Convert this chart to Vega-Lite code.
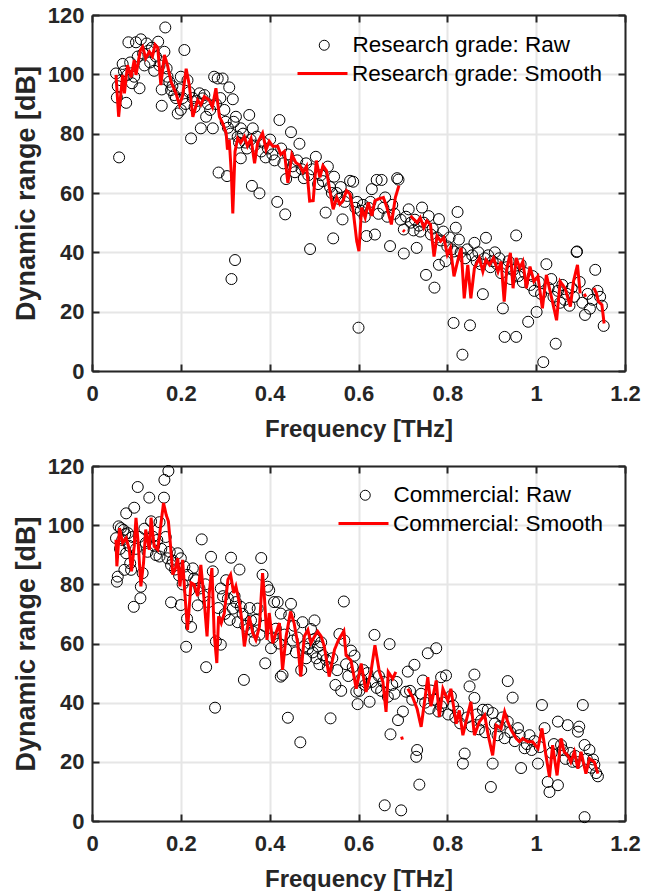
{
"$schema": "https://vega.github.io/schema/vega-lite/v6.json",
"background": "white",
"padding": {"left": 12, "top": 4, "right": 5, "bottom": 0},
"spacing": 14,
"config": {
 "font": "Liberation Sans",
 "view": {"stroke": null},
 "axis": {"labelFont": "Liberation Sans", "labelFontWeight": "bold", "labelFontSize": 22, "labelColor": "#262626", "labelFlush": false, "titleFont": "Liberation Sans", "titleFontWeight": "bold", "titleFontSize": 24, "titleColor": "#262626", "domainColor": "#262626", "domainWidth": 2, "tickColor": "#262626", "tickWidth": 2, "tickSize": -7, "gridColor": "#e6e6e6", "gridWidth": 2},
 "legend": {"labelFont": "Liberation Sans", "labelFontSize": 22.5, "labelColor": "#000000", "labelLimit": 400, "orient": "none", "padding": 0, "title": null}
},
"datasets": {
 "tr": [
{"f":0.054,"d":100.3},{"f":0.056,"d":92.2},{"f":0.061,"d":72},{"f":0.069,"d":103.5},{"f":0.077,"d":90.4},{"f":0.080,"d":99.8},{"f":0.082,"d":110.8},{"f":0.095,"d":99.2},{"f":0.099,"d":110.8},{"f":0.107,"d":95.3},{"f":0.110,"d":111.8},{"f":0.123,"d":110.4},{"f":0.140,"d":101.2},{"f":0.149,"d":111},{"f":0.157,"d":94.9},{"f":0.157,"d":89.4},{"f":0.163,"d":107.6},{"f":0.165,"d":115.8},{"f":0.170,"d":99.2},{"f":0.174,"d":97.5},{"f":0.178,"d":94.7},{"f":0.185,"d":93},{"f":0.193,"d":86.8},{"f":0.200,"d":88},{"f":0.200,"d":99.2},{"f":0.208,"d":108.2},{"f":0.215,"d":98},{"f":0.223,"d":78.4},{"f":0.242,"d":93.6},{"f":0.245,"d":81.8},{"f":0.249,"d":91.9},{"f":0.257,"d":85.7},{"f":0.272,"d":81.8},{"f":0.275,"d":99.2},{"f":0.283,"d":98.6},{"f":0.285,"d":66.9},{"f":0.294,"d":98.6},{"f":0.304,"d":65.7},{"f":0.309,"d":95.6},{"f":0.314,"d":31},{"f":0.317,"d":91.6},{"f":0.322,"d":37.4},{"f":0.324,"d":85.7},{"f":0.335,"d":81.8},{"f":0.335,"d":71.7},{"f":0.354,"d":86.3},{"f":0.360,"d":62.4},{"f":0.362,"d":81.8},{"f":0.377,"d":59.9},{"f":0.417,"d":57},{"f":0.422,"d":84.6},{"f":0.435,"d":52.8},{"f":0.437,"d":64.7},{"f":0.448,"d":80.5},{"f":0.467,"d":76.6},{"f":0.491,"d":41.1},{"f":0.504,"d":72.2},{"f":0.526,"d":53.4},{"f":0.531,"d":68.9},{"f":0.543,"d":44.7},{"f":0.545,"d":65.5},{"f":0.564,"d":51.1},{"f":0.581,"d":64.1},{"f":0.588,"d":63.8},{"f":0.600,"d":14.6},{"f":0.618,"d":45.5},{"f":0.630,"d":61.3},{"f":0.637,"d":46},{"f":0.641,"d":64.4},{"f":0.652,"d":64.4},{"f":0.660,"d":58.5},{"f":0.671,"d":42.1},{"f":0.687,"d":65},{"f":0.690,"d":64.5},{"f":0.702,"d":39.6},{"f":0.702,"d":47.7},{"f":0.713,"d":54.5},{"f":0.724,"d":47.4},{"f":0.731,"d":41.5},{"f":0.743,"d":55.1},{"f":0.752,"d":32.4},{"f":0.758,"d":52.2},{"f":0.771,"d":28.1},{"f":0.781,"d":51.2},{"f":0.781,"d":35.8},{"f":0.796,"d":37},{"f":0.814,"d":16.2},{"f":0.815,"d":40.3},{"f":0.819,"d":48.3},{"f":0.823,"d":53.6},{"f":0.826,"d":44.3},{"f":0.834,"d":5.5},{"f":0.851,"d":15.4},{"f":0.861,"d":43.2},{"f":0.880,"d":25.9},{"f":0.887,"d":44.9},{"f":0.925,"d":21.1},{"f":0.929,"d":11.5},{"f":0.955,"d":11.5},{"f":0.955,"d":45.7},{"f":0.982,"d":16.6},{"f":1.001,"d":19.9},{"f":1.016,"d":3},{"f":1.023,"d":36},{"f":1.044,"d":9.2},{"f":1.091,"d":40.1},{"f":1.092,"d":40.3},{"f":1.110,"d":18.9},{"f":1.133,"d":34.1},{"f":1.152,"d":15.2},
{"f":0.058,"d":96},{"f":0.065,"d":98},{"f":0.072,"d":101},{"f":0.086,"d":104},{"f":0.090,"d":97},{"f":0.103,"d":106},{"f":0.115,"d":107},{"f":0.118,"d":103},{"f":0.127,"d":108},{"f":0.131,"d":104},{"f":0.135,"d":109},{"f":0.144,"d":106},{"f":0.152,"d":103},{"f":0.168,"d":102},{"f":0.181,"d":96},{"f":0.189,"d":92},{"f":0.196,"d":95},{"f":0.204,"d":92},{"f":0.211,"d":90},{"f":0.219,"d":94},{"f":0.227,"d":92},{"f":0.231,"d":89},{"f":0.236,"d":91},{"f":0.253,"d":93},{"f":0.261,"d":90},{"f":0.266,"d":88},{"f":0.279,"d":90},{"f":0.289,"d":92},{"f":0.298,"d":88},{"f":0.301,"d":84},{"f":0.306,"d":82},{"f":0.312,"d":80},{"f":0.319,"d":84},{"f":0.328,"d":79},{"f":0.331,"d":77},{"f":0.340,"d":80},{"f":0.345,"d":77},{"f":0.349,"d":75},{"f":0.357,"d":78},{"f":0.366,"d":76},{"f":0.371,"d":79},{"f":0.381,"d":74},{"f":0.386,"d":77},{"f":0.391,"d":72},{"f":0.396,"d":75},{"f":0.401,"d":78},{"f":0.406,"d":73},{"f":0.411,"d":71},{"f":0.426,"d":75},{"f":0.431,"d":70},{"f":0.441,"d":73},{"f":0.452,"d":69},{"f":0.457,"d":67},{"f":0.462,"d":71},{"f":0.472,"d":68},{"f":0.477,"d":65},{"f":0.482,"d":70},{"f":0.487,"d":66},{"f":0.496,"d":68},{"f":0.509,"d":63},{"f":0.515,"d":66},{"f":0.520,"d":64},{"f":0.536,"d":62},{"f":0.540,"d":60},{"f":0.551,"d":60},{"f":0.556,"d":58},{"f":0.560,"d":62},{"f":0.569,"d":57},{"f":0.575,"d":59},{"f":0.593,"d":55},{"f":0.597,"d":57},{"f":0.605,"d":54},{"f":0.610,"d":56},{"f":0.614,"d":52},{"f":0.623,"d":55},{"f":0.627,"d":57},{"f":0.645,"d":53},{"f":0.656,"d":55},{"f":0.665,"d":52},{"f":0.676,"d":56},{"f":0.681,"d":53},{"f":0.695,"d":51},{"f":0.707,"d":52},{"f":0.718,"d":50},{"f":0.727,"d":51},{"f":0.736,"d":49},{"f":0.739,"d":47},{"f":0.747,"d":50},{"f":0.763,"d":46},{"f":0.767,"d":48},{"f":0.776,"d":45},{"f":0.786,"d":44},{"f":0.791,"d":47},{"f":0.800,"d":42},{"f":0.805,"d":45},{"f":0.810,"d":41},{"f":0.830,"d":40},{"f":0.840,"d":38},{"f":0.845,"d":41},{"f":0.856,"d":39},{"f":0.866,"d":37},{"f":0.870,"d":40},{"f":0.875,"d":36},{"f":0.884,"d":38},{"f":0.892,"d":39},{"f":0.897,"d":35},{"f":0.902,"d":37},{"f":0.907,"d":40},{"f":0.912,"d":36},{"f":0.917,"d":38},{"f":0.921,"d":33},{"f":0.934,"d":35},{"f":0.938,"d":37},{"f":0.943,"d":31},{"f":0.948,"d":34},{"f":0.960,"d":32},{"f":0.965,"d":36},{"f":0.970,"d":30},{"f":0.975,"d":33},{"f":0.987,"d":29},{"f":0.992,"d":32},{"f":0.996,"d":27},{"f":1.006,"d":30},{"f":1.011,"d":26},{"f":1.028,"d":28},{"f":1.034,"d":31},{"f":1.039,"d":25},{"f":1.049,"d":27},{"f":1.054,"d":23},{"f":1.059,"d":29},{"f":1.064,"d":24},{"f":1.069,"d":26},{"f":1.075,"d":22},{"f":1.080,"d":28},{"f":1.085,"d":25},{"f":1.098,"d":30},{"f":1.104,"d":23},{"f":1.116,"d":26},{"f":1.121,"d":21},{"f":1.127,"d":24},{"f":1.138,"d":27},{"f":1.144,"d":25},{"f":1.148,"d":22}
 ],
 "ts": [
{"f":0.054,"d":99.8,"g":1},{"f":0.060,"d":85.7,"g":1},{"f":0.069,"d":99.8,"g":1},{"f":0.073,"d":93.6,"g":1},{"f":0.080,"d":103.1,"g":1},{"f":0.088,"d":99,"g":1},{"f":0.095,"d":104.8,"g":1},{"f":0.099,"d":99.8,"g":1},{"f":0.109,"d":108.2,"g":1},{"f":0.114,"d":109.3,"g":1},{"f":0.121,"d":105.4,"g":1},{"f":0.129,"d":107.6,"g":1},{"f":0.136,"d":106,"g":1},{"f":0.142,"d":110,"g":1},{"f":0.148,"d":109,"g":1},{"f":0.155,"d":96.4,"g":1},{"f":0.163,"d":106.5,"g":1},{"f":0.170,"d":103,"g":1},{"f":0.178,"d":97.5,"g":1},{"f":0.189,"d":93.6,"g":1},{"f":0.197,"d":89.7,"g":1},{"f":0.204,"d":92.8,"g":1},{"f":0.212,"d":101.9,"g":1},{"f":0.219,"d":96.4,"g":1},{"f":0.227,"d":85.7,"g":1},{"f":0.238,"d":91.3,"g":1},{"f":0.245,"d":89.7,"g":1},{"f":0.253,"d":92.5,"g":1},{"f":0.264,"d":91.3,"g":1},{"f":0.271,"d":89,"g":1},{"f":0.279,"d":95.3,"g":1},{"f":0.287,"d":85.7,"g":1},{"f":0.294,"d":83.6,"g":1},{"f":0.302,"d":80.2,"g":1},{"f":0.305,"d":74.6,"g":1},{"f":0.309,"d":78,"g":1},{"f":0.314,"d":65.7,"g":1},{"f":0.317,"d":53.1,"g":1},{"f":0.322,"d":74,"g":1},{"f":0.328,"d":78.4,"g":1},{"f":0.335,"d":77,"g":1},{"f":0.343,"d":79,"g":1},{"f":0.350,"d":75.8,"g":1},{"f":0.358,"d":78.4,"g":1},{"f":0.366,"d":70,"g":1},{"f":0.373,"d":77,"g":1},{"f":0.384,"d":80.2,"g":1},{"f":0.392,"d":74.6,"g":1},{"f":0.399,"d":77.4,"g":1},{"f":0.407,"d":75.8,"g":1},{"f":0.418,"d":75.8,"g":1},{"f":0.425,"d":73,"g":1},{"f":0.433,"d":74,"g":1},{"f":0.441,"d":63.4,"g":1},{"f":0.450,"d":73,"g":1},{"f":0.459,"d":70.2,"g":1},{"f":0.467,"d":69.5,"g":1},{"f":0.475,"d":67,"g":1},{"f":0.483,"d":69,"g":1},{"f":0.490,"d":57.3,"g":1},{"f":0.498,"d":57.4,"g":1},{"f":0.505,"d":70.9,"g":1},{"f":0.513,"d":65.3,"g":1},{"f":0.520,"d":69.2,"g":1},{"f":0.528,"d":67.5,"g":1},{"f":0.535,"d":61.3,"g":1},{"f":0.543,"d":54.5,"g":1},{"f":0.551,"d":58.5,"g":1},{"f":0.558,"d":56.2,"g":1},{"f":0.565,"d":57.4,"g":1},{"f":0.573,"d":60.8,"g":1},{"f":0.581,"d":59.6,"g":1},{"f":0.588,"d":54,"g":1},{"f":0.596,"d":43.8,"g":1},{"f":0.601,"d":40.4,"g":1},{"f":0.607,"d":55.1,"g":1},{"f":0.615,"d":51.7,"g":1},{"f":0.622,"d":56.8,"g":1},{"f":0.630,"d":52.3,"g":1},{"f":0.637,"d":57.4,"g":1},{"f":0.645,"d":58,"g":1},{"f":0.656,"d":58.5,"g":1},{"f":0.664,"d":55.1,"g":1},{"f":0.674,"d":49.4,"g":1},{"f":0.683,"d":58.5,"g":1},{"f":0.691,"d":62.5,"g":1},
{"f":0.700,"d":47.5,"g":2},{"f":0.704,"d":47,"g":2},
{"f":0.717,"d":52.3,"g":3},{"f":0.724,"d":51.2,"g":3},{"f":0.732,"d":50,"g":3},{"f":0.739,"d":51.7,"g":3},{"f":0.747,"d":48.3,"g":3},{"f":0.754,"d":50.6,"g":3},{"f":0.762,"d":49.4,"g":3},{"f":0.770,"d":38.6,"g":3},{"f":0.777,"d":45.5,"g":3},{"f":0.785,"d":43.8,"g":3},{"f":0.792,"d":45,"g":3},{"f":0.800,"d":39.2,"g":3},{"f":0.807,"d":41.5,"g":3},{"f":0.815,"d":31.9,"g":3},{"f":0.823,"d":36.9,"g":3},{"f":0.831,"d":41.5,"g":3},{"f":0.838,"d":24.5,"g":3},{"f":0.846,"d":35.8,"g":3},{"f":0.853,"d":24.5,"g":3},{"f":0.861,"d":34.7,"g":3},{"f":0.872,"d":38.1,"g":3},{"f":0.880,"d":33.5,"g":3},{"f":0.887,"d":37.5,"g":3},{"f":0.895,"d":35.8,"g":3},{"f":0.904,"d":38.1,"g":3},{"f":0.914,"d":33.5,"g":3},{"f":0.921,"d":36.9,"g":3},{"f":0.928,"d":23.4,"g":3},{"f":0.934,"d":34.7,"g":3},{"f":0.942,"d":39.8,"g":3},{"f":0.948,"d":27.9,"g":3},{"f":0.955,"d":38.1,"g":3},{"f":0.963,"d":34.7,"g":3},{"f":0.970,"d":36.9,"g":3},{"f":0.978,"d":27.9,"g":3},{"f":0.986,"d":35.2,"g":3},{"f":0.995,"d":30.2,"g":3},{"f":1.004,"d":31.9,"g":3},{"f":1.014,"d":21.1,"g":3},{"f":1.023,"d":32.4,"g":3},{"f":1.035,"d":24.5,"g":3},{"f":1.046,"d":17.1,"g":3},{"f":1.054,"d":30.2,"g":3},{"f":1.065,"d":27.9,"g":3},{"f":1.077,"d":21.7,"g":3},{"f":1.084,"d":30.2,"g":3},{"f":1.093,"d":35.8,"g":3},{"f":1.099,"d":26.2,"g":3},
{"f":1.108,"d":26,"g":4},{"f":1.112,"d":25,"g":4},
{"f":1.130,"d":28,"g":5},{"f":1.136,"d":26,"g":5},{"f":1.140,"d":23.4,"g":5},{"f":1.148,"d":22.3,"g":5},{"f":1.153,"d":16,"g":5}
 ],
 "br": [
{"f":0.054,"d":95.6},{"f":0.056,"d":80.9},{"f":0.058,"d":82.6},{"f":0.060,"d":99.6},{"f":0.065,"d":99},{"f":0.071,"d":98.4},{"f":0.073,"d":84.9},{"f":0.077,"d":104},{"f":0.077,"d":90.5},{"f":0.081,"d":97.3},{"f":0.086,"d":87.1},{"f":0.088,"d":84.9},{"f":0.094,"d":72.4},{"f":0.095,"d":105.9},{"f":0.103,"d":112.9},{"f":0.109,"d":75.3},{"f":0.110,"d":79.2},{"f":0.114,"d":83.8},{"f":0.118,"d":98.8},{"f":0.129,"d":109.3},{"f":0.133,"d":101.3},{"f":0.137,"d":96.1},{"f":0.144,"d":89.9},{"f":0.152,"d":101},{"f":0.152,"d":89.4},{"f":0.162,"d":109.3},{"f":0.163,"d":115.3},{"f":0.170,"d":88.8},{"f":0.172,"d":118.3},{"f":0.178,"d":86.5},{"f":0.178,"d":73.9},{"f":0.193,"d":90.5},{"f":0.200,"d":88.8},{"f":0.200,"d":73},{"f":0.208,"d":86},{"f":0.212,"d":58.9},{"f":0.214,"d":68.4},{"f":0.215,"d":83.2},{"f":0.223,"d":65.6},{"f":0.227,"d":85.4},{"f":0.234,"d":81.4},{"f":0.238,"d":72.9},{"f":0.242,"d":78.6},{"f":0.247,"d":95.2},{"f":0.257,"d":52},{"f":0.268,"d":89.3},{"f":0.272,"d":84.4},{"f":0.277,"d":38.3},{"f":0.279,"d":60.7},{"f":0.290,"d":59.6},{"f":0.290,"d":78.6},{"f":0.302,"d":81.4},{"f":0.306,"d":75.2},{"f":0.313,"d":89},{"f":0.317,"d":71.8},{"f":0.324,"d":74},{"f":0.328,"d":67.2},{"f":0.332,"d":85},{"f":0.335,"d":72.4},{"f":0.342,"d":47.7},{"f":0.351,"d":64.9},{"f":0.358,"d":67.8},{"f":0.366,"d":61},{"f":0.373,"d":71.8},{"f":0.381,"d":88.9},{"f":0.384,"d":83.2},{"f":0.390,"d":53.3},{"f":0.395,"d":79.2},{"f":0.399,"d":78},{"f":0.403,"d":58.4},{"f":0.410,"d":74},{"f":0.418,"d":74},{"f":0.425,"d":70.1},{"f":0.425,"d":48.8},{"f":0.429,"d":49.4},{"f":0.441,"d":34.9},{"f":0.444,"d":69.5},{"f":0.448,"d":73.4},{"f":0.455,"d":66},{"f":0.469,"d":26.6},{"f":0.471,"d":51},{"f":0.474,"d":67.2},{"f":0.486,"d":58.2},{"f":0.493,"d":64.9},{"f":0.501,"d":67.8},{"f":0.501,"d":61.5},{"f":0.516,"d":60.4},{"f":0.527,"d":54.5},{"f":0.537,"d":34.7},{"f":0.548,"d":46},{"f":0.557,"d":63.2},{"f":0.561,"d":44},{"f":0.567,"d":74.2},{"f":0.568,"d":61},{"f":0.583,"d":57.6},{"f":0.591,"d":55.9},{"f":0.595,"d":43.7},{"f":0.598,"d":39.5},{"f":0.602,"d":44},{"f":0.625,"d":40.3},{"f":0.636,"d":62.9},{"f":0.659,"d":5.3},{"f":0.666,"d":42},{"f":0.670,"d":59.8},{"f":0.672,"d":29.3},{"f":0.689,"d":34.1},{"f":0.696,"d":3.6},{"f":0.700,"d":37},{"f":0.707,"d":43.7},{"f":0.711,"d":50.5},{"f":0.726,"d":52.8},{"f":0.730,"d":21.7},{"f":0.732,"d":24},{"f":0.737,"d":12.3},{"f":0.745,"d":47.5},{"f":0.756,"d":56.7},{"f":0.763,"d":44.1},{"f":0.775,"d":58.4},{"f":0.786,"d":48.6},{"f":0.786,"d":38.8},{"f":0.797,"d":49.2},{"f":0.808,"d":42.2},{"f":0.835,"d":19.4},{"f":0.839,"d":22.8},{"f":0.850,"d":45.5},{"f":0.861,"d":49.5},{"f":0.861,"d":41.6},{"f":0.880,"d":37.6},{"f":0.891,"d":37.6},{"f":0.898,"d":11.5},{"f":0.902,"d":19.4},{"f":0.902,"d":36.5},{"f":0.936,"d":47.3},{"f":0.936,"d":33.6},{"f":0.947,"d":41.7},{"f":0.959,"d":31.4},{"f":0.966,"d":17.9},{"f":0.974,"d":24.6},{"f":1.004,"d":19.4},{"f":1.013,"d":39.2},{"f":1.019,"d":31.4},{"f":1.026,"d":13.2},{"f":1.030,"d":9.8},{"f":1.049,"d":12.1},{"f":1.049,"d":33.6},{"f":1.056,"d":25.7},{"f":1.071,"d":32.4},{"f":1.094,"d":30.2},{"f":1.094,"d":19.9},{"f":1.097,"d":31.9},{"f":1.105,"d":39.2},{"f":1.109,"d":25.7},{"f":1.109,"d":1.3},{"f":1.120,"d":24},{"f":1.128,"d":20.8},{"f":1.135,"d":16.2},{"f":1.139,"d":15.1},
{"f":0.063,"d":92},{"f":0.068,"d":95},{"f":0.075,"d":97},{"f":0.084,"d":93},{"f":0.091,"d":96},{"f":0.099,"d":92},{"f":0.106,"d":96},{"f":0.121,"d":94},{"f":0.125,"d":91},{"f":0.140,"d":93},{"f":0.147,"d":95},{"f":0.156,"d":92},{"f":0.166,"d":96},{"f":0.175,"d":91},{"f":0.182,"d":88},{"f":0.187,"d":85},{"f":0.196,"d":83},{"f":0.204,"d":80},{"f":0.219,"d":78},{"f":0.230,"d":82},{"f":0.251,"d":76},{"f":0.255,"d":80},{"f":0.262,"d":74},{"f":0.284,"d":72},{"f":0.295,"d":76},{"f":0.299,"d":70},{"f":0.310,"d":68},{"f":0.321,"d":76},{"f":0.339,"d":70},{"f":0.345,"d":66},{"f":0.355,"d":72},{"f":0.362,"d":64},{"f":0.369,"d":68},{"f":0.377,"d":63},{"f":0.388,"d":66},{"f":0.407,"d":62},{"f":0.414,"d":65},{"f":0.421,"d":60},{"f":0.433,"d":63},{"f":0.437,"d":58},{"f":0.452,"d":61},{"f":0.459,"d":57},{"f":0.463,"d":62},{"f":0.478,"d":59},{"f":0.482,"d":55},{"f":0.490,"d":60},{"f":0.497,"d":57},{"f":0.505,"d":55},{"f":0.509,"d":59},{"f":0.512,"d":53},{"f":0.520,"d":56},{"f":0.531,"d":52},{"f":0.541,"d":55},{"f":0.552,"d":51},{"f":0.572,"d":53},{"f":0.577,"d":49},{"f":0.587,"d":52},{"f":0.606,"d":48},{"f":0.611,"d":51},{"f":0.615,"d":46},{"f":0.620,"d":50},{"f":0.630,"d":47},{"f":0.641,"d":45},{"f":0.646,"d":49},{"f":0.651,"d":44},{"f":0.656,"d":47},{"f":0.676,"d":46},{"f":0.681,"d":43},{"f":0.686,"d":47},{"f":0.716,"d":44},{"f":0.721,"d":41},{"f":0.741,"d":43},{"f":0.750,"d":40},{"f":0.760,"d":38},{"f":0.770,"d":41},{"f":0.780,"d":37},{"f":0.791,"d":40},{"f":0.802,"d":36},{"f":0.813,"d":39},{"f":0.818,"d":35},{"f":0.824,"d":37},{"f":0.829,"d":33},{"f":0.845,"d":35},{"f":0.855,"d":32},{"f":0.866,"d":36},{"f":0.871,"d":31},{"f":0.876,"d":34},{"f":0.885,"d":30},{"f":0.907,"d":33},{"f":0.913,"d":29},{"f":0.918,"d":32},{"f":0.924,"d":35},{"f":0.929,"d":28},{"f":0.942,"d":30},{"f":0.952,"d":27},{"f":0.963,"d":29},{"f":0.979,"d":26},{"f":0.985,"d":29},{"f":0.990,"d":24},{"f":0.996,"d":27},{"f":1.008,"d":25},{"f":1.035,"d":23},{"f":1.040,"d":26},{"f":1.060,"d":24},{"f":1.066,"d":21},{"f":1.077,"d":23},{"f":1.082,"d":20},{"f":1.088,"d":22},{"f":1.114,"d":21},{"f":1.124,"d":18},{"f":1.131,"d":19}
 ],
 "bs": [
{"f":0.054,"d":95.1,"g":1},{"f":0.056,"d":86.1,"g":1},{"f":0.062,"d":99,"g":1},{"f":0.069,"d":94,"g":1},{"f":0.077,"d":95.7,"g":1},{"f":0.084,"d":91.7,"g":1},{"f":0.089,"d":84.4,"g":1},{"f":0.095,"d":92.8,"g":1},{"f":0.099,"d":102.5,"g":1},{"f":0.104,"d":94,"g":1},{"f":0.110,"d":79.3,"g":1},{"f":0.116,"d":87.2,"g":1},{"f":0.121,"d":98.5,"g":1},{"f":0.129,"d":91.7,"g":1},{"f":0.133,"d":102.5,"g":1},{"f":0.140,"d":92.8,"g":1},{"f":0.148,"d":91.7,"g":1},{"f":0.155,"d":100.2,"g":1},{"f":0.161,"d":107.5,"g":1},{"f":0.167,"d":103.5,"g":1},{"f":0.172,"d":101.3,"g":1},{"f":0.176,"d":94.5,"g":1},{"f":0.182,"d":83.3,"g":1},{"f":0.188,"d":85.5,"g":1},{"f":0.193,"d":88.9,"g":1},{"f":0.198,"d":79.3,"g":1},{"f":0.204,"d":88.3,"g":1},{"f":0.209,"d":77.1,"g":1},{"f":0.215,"d":64.6,"g":1},{"f":0.223,"d":80.5,"g":1},{"f":0.230,"d":79.9,"g":1},{"f":0.238,"d":76,"g":1},{"f":0.245,"d":86.6,"g":1},{"f":0.253,"d":73.7,"g":1},{"f":0.259,"d":62.4,"g":1},{"f":0.264,"d":77.1,"g":1},{"f":0.270,"d":85.5,"g":1},{"f":0.275,"d":63.5,"g":1},{"f":0.281,"d":53.4,"g":1},{"f":0.285,"d":69.2,"g":1},{"f":0.291,"d":66.9,"g":1},{"f":0.298,"d":70.3,"g":1},{"f":0.306,"d":81.6,"g":1},{"f":0.312,"d":83.3,"g":1},{"f":0.319,"d":77.1,"g":1},{"f":0.324,"d":79.3,"g":1},{"f":0.332,"d":73.7,"g":1},{"f":0.338,"d":66.9,"g":1},{"f":0.343,"d":59,"g":1},{"f":0.349,"d":64.6,"g":1},{"f":0.354,"d":69.2,"g":1},{"f":0.362,"d":63.5,"g":1},{"f":0.369,"d":61.2,"g":1},{"f":0.377,"d":65.7,"g":1},{"f":0.384,"d":83.8,"g":1},{"f":0.388,"d":76,"g":1},{"f":0.394,"d":61.2,"g":1},{"f":0.399,"d":70.3,"g":1},{"f":0.407,"d":60.1,"g":1},{"f":0.414,"d":63.5,"g":1},{"f":0.422,"d":66.9,"g":1},{"f":0.429,"d":51.1,"g":1},{"f":0.437,"d":62.4,"g":1},{"f":0.447,"d":70.8,"g":1},{"f":0.455,"d":66.9,"g":1},{"f":0.463,"d":60.1,"g":1},{"f":0.470,"d":48.8,"g":1},{"f":0.478,"d":62.4,"g":1},{"f":0.486,"d":64.6,"g":1},{"f":0.493,"d":60.1,"g":1},{"f":0.501,"d":62.4,"g":1},{"f":0.508,"d":64.1,"g":1},{"f":0.516,"d":62.4,"g":1},{"f":0.523,"d":59,"g":1},{"f":0.534,"d":48.8,"g":1},{"f":0.546,"d":57.9,"g":1},{"f":0.555,"d":61.2,"g":1},{"f":0.567,"d":64.2,"g":1},{"f":0.572,"d":56,"g":1},{"f":0.583,"d":54.3,"g":1},{"f":0.595,"d":44.7,"g":1},{"f":0.606,"d":53.2,"g":1},{"f":0.617,"d":43.6,"g":1},{"f":0.628,"d":50.4,"g":1},{"f":0.637,"d":59.4,"g":1},{"f":0.647,"d":50.4,"g":1},{"f":0.655,"d":47,"g":1},{"f":0.662,"d":36.9,"g":1},{"f":0.667,"d":50.4,"g":1},{"f":0.677,"d":48.1,"g":1},{"f":0.684,"d":50.4,"g":1},
{"f":0.697,"d":28.5,"g":2},{"f":0.699,"d":27.5,"g":2},
{"f":0.711,"d":44.7,"g":3},{"f":0.722,"d":41.8,"g":3},{"f":0.732,"d":37.9,"g":3},{"f":0.741,"d":31.8,"g":3},{"f":0.756,"d":48.6,"g":3},{"f":0.763,"d":38.8,"g":3},{"f":0.775,"d":47.5,"g":3},{"f":0.782,"d":35.2,"g":3},{"f":0.790,"d":44.7,"g":3},{"f":0.801,"d":40.7,"g":3},{"f":0.808,"d":44.7,"g":3},{"f":0.820,"d":32.9,"g":3},{"f":0.827,"d":37.4,"g":3},{"f":0.835,"d":29,"g":3},{"f":0.842,"d":33.5,"g":3},{"f":0.853,"d":40.3,"g":3},{"f":0.861,"d":29,"g":3},{"f":0.872,"d":33.5,"g":3},{"f":0.884,"d":35.8,"g":3},{"f":0.892,"d":29,"g":3},{"f":0.902,"d":22.2,"g":3},{"f":0.910,"d":32.4,"g":3},{"f":0.921,"d":31.3,"g":3},{"f":0.929,"d":36.9,"g":3},{"f":0.936,"d":33.5,"g":3},{"f":0.944,"d":30.7,"g":3},{"f":0.955,"d":27.9,"g":3},{"f":0.962,"d":26.8,"g":3},{"f":0.970,"d":27.9,"g":3},{"f":0.981,"d":26.8,"g":3},{"f":0.992,"d":26.8,"g":3},{"f":1.004,"d":24.5,"g":3},{"f":1.013,"d":31.3,"g":3},{"f":1.022,"d":22.2,"g":3},{"f":1.030,"d":14.9,"g":3},{"f":1.037,"d":25.6,"g":3},{"f":1.047,"d":15.4,"g":3},{"f":1.056,"d":27.9,"g":3},{"f":1.063,"d":23.4,"g":3},{"f":1.071,"d":22.2,"g":3},{"f":1.078,"d":19.9,"g":3},{"f":1.086,"d":23.4,"g":3},{"f":1.094,"d":17.7,"g":3},{"f":1.101,"d":23.4,"g":3},{"f":1.112,"d":16,"g":3},{"f":1.120,"d":21.1,"g":3},{"f":1.131,"d":19.9,"g":3},{"f":1.139,"d":16,"g":3}
 ]
},
"vconcat": [
 {
  "width": 533, "height": 356,
  "layer": [
   {"data": {"name": "tr"},
    "mark": {"type": "point", "shape": "circle", "filled": false, "size": 121, "strokeWidth": 1, "opacity": 1},
    "encoding": {
     "x": {"field": "f", "type": "quantitative", "scale": {"domain": [0, 1.2], "nice": false}, "axis": {"orient": "bottom", "values": [0, 0.2, 0.4, 0.6, 0.8, 1, 1.2], "format": "~g", "title": "Frequency [THz]", "grid": true, "labelPadding": 19, "titlePadding": 13}},
     "y": {"field": "d", "type": "quantitative", "scale": {"domain": [0, 120], "nice": false}, "axis": {"orient": "left", "values": [0, 20, 40, 60, 80, 100, 120], "title": "Dynamic range [dB]", "grid": true, "labelPadding": 15, "titlePadding": 7, "titleFontSize": 27}},
     "color": {"datum": "Research grade: Raw", "scale": {"domain": ["Research grade: Raw"], "range": ["#000000"]},
      "legend": {"legendX": 221, "legendY": 19, "symbolType": "circle", "symbolSize": 100, "symbolStrokeWidth": 1, "labelOffset": 17}}
    }},
   {"data": {"name": "ts"},
    "mark": {"type": "line", "strokeWidth": 3, "color": "#ff0000"},
    "encoding": {
     "x": {"field": "f", "type": "quantitative", "axis": {"orient": "top", "values": [0, 0.2, 0.4, 0.6, 0.8, 1, 1.2], "labels": false, "title": null, "grid": false}},
     "y": {"field": "d", "type": "quantitative", "axis": {"orient": "right", "values": [0, 20, 40, 60, 80, 100, 120], "labels": false, "title": null, "grid": false}},
     "detail": {"field": "g"},
     "strokeDash": {"datum": "Research grade: Smooth", "scale": {"domain": ["Research grade: Smooth"], "range": [[1, 0]]},
      "legend": {"legendX": 204, "legendY": 32, "symbolType": "stroke", "symbolSize": 2500, "symbolStrokeWidth": 3, "symbolStrokeColor": "#ff0000", "labelOffset": 3}}
    }}
  ],
  "resolve": {"axis": {"x": "independent", "y": "independent"}}
 },
 {
  "width": 533, "height": 355,
  "layer": [
   {"data": {"name": "br"},
    "mark": {"type": "point", "shape": "circle", "filled": false, "size": 121, "strokeWidth": 1, "opacity": 1},
    "encoding": {
     "x": {"field": "f", "type": "quantitative", "scale": {"domain": [0, 1.2], "nice": false}, "axis": {"orient": "bottom", "values": [0, 0.2, 0.4, 0.6, 0.8, 1, 1.2], "format": "~g", "title": "Frequency [THz]", "grid": true, "labelPadding": 19, "titlePadding": 13}},
     "y": {"field": "d", "type": "quantitative", "scale": {"domain": [0, 120], "nice": false}, "axis": {"orient": "left", "values": [0, 20, 40, 60, 80, 100, 120], "title": "Dynamic range [dB]", "grid": true, "labelPadding": 15, "titlePadding": 7, "titleFontSize": 27}},
     "color": {"datum": "Commercial: Raw", "scale": {"domain": ["Commercial: Raw"], "range": ["#000000"]},
      "legend": {"legendX": 262, "legendY": 18, "symbolType": "circle", "symbolSize": 100, "symbolStrokeWidth": 1, "labelOffset": 17}}
    }},
   {"data": {"name": "bs"},
    "mark": {"type": "line", "strokeWidth": 3, "color": "#ff0000"},
    "encoding": {
     "x": {"field": "f", "type": "quantitative", "axis": {"orient": "top", "values": [0, 0.2, 0.4, 0.6, 0.8, 1, 1.2], "labels": false, "title": null, "grid": false}},
     "y": {"field": "d", "type": "quantitative", "axis": {"orient": "right", "values": [0, 20, 40, 60, 80, 100, 120], "labels": false, "title": null, "grid": false}},
     "detail": {"field": "g"},
     "strokeDash": {"datum": "Commercial: Smooth", "scale": {"domain": ["Commercial: Smooth"], "range": [[1, 0]]},
      "legend": {"legendX": 245, "legendY": 31, "symbolType": "stroke", "symbolSize": 2500, "symbolStrokeWidth": 3, "symbolStrokeColor": "#ff0000", "labelOffset": 3}}
    }}
  ],
  "resolve": {"axis": {"x": "independent", "y": "independent"}}
 }
],
"resolve": {"scale": {"color": "independent", "strokeDash": "independent"}, "legend": {"color": "independent", "strokeDash": "independent"}}
}
